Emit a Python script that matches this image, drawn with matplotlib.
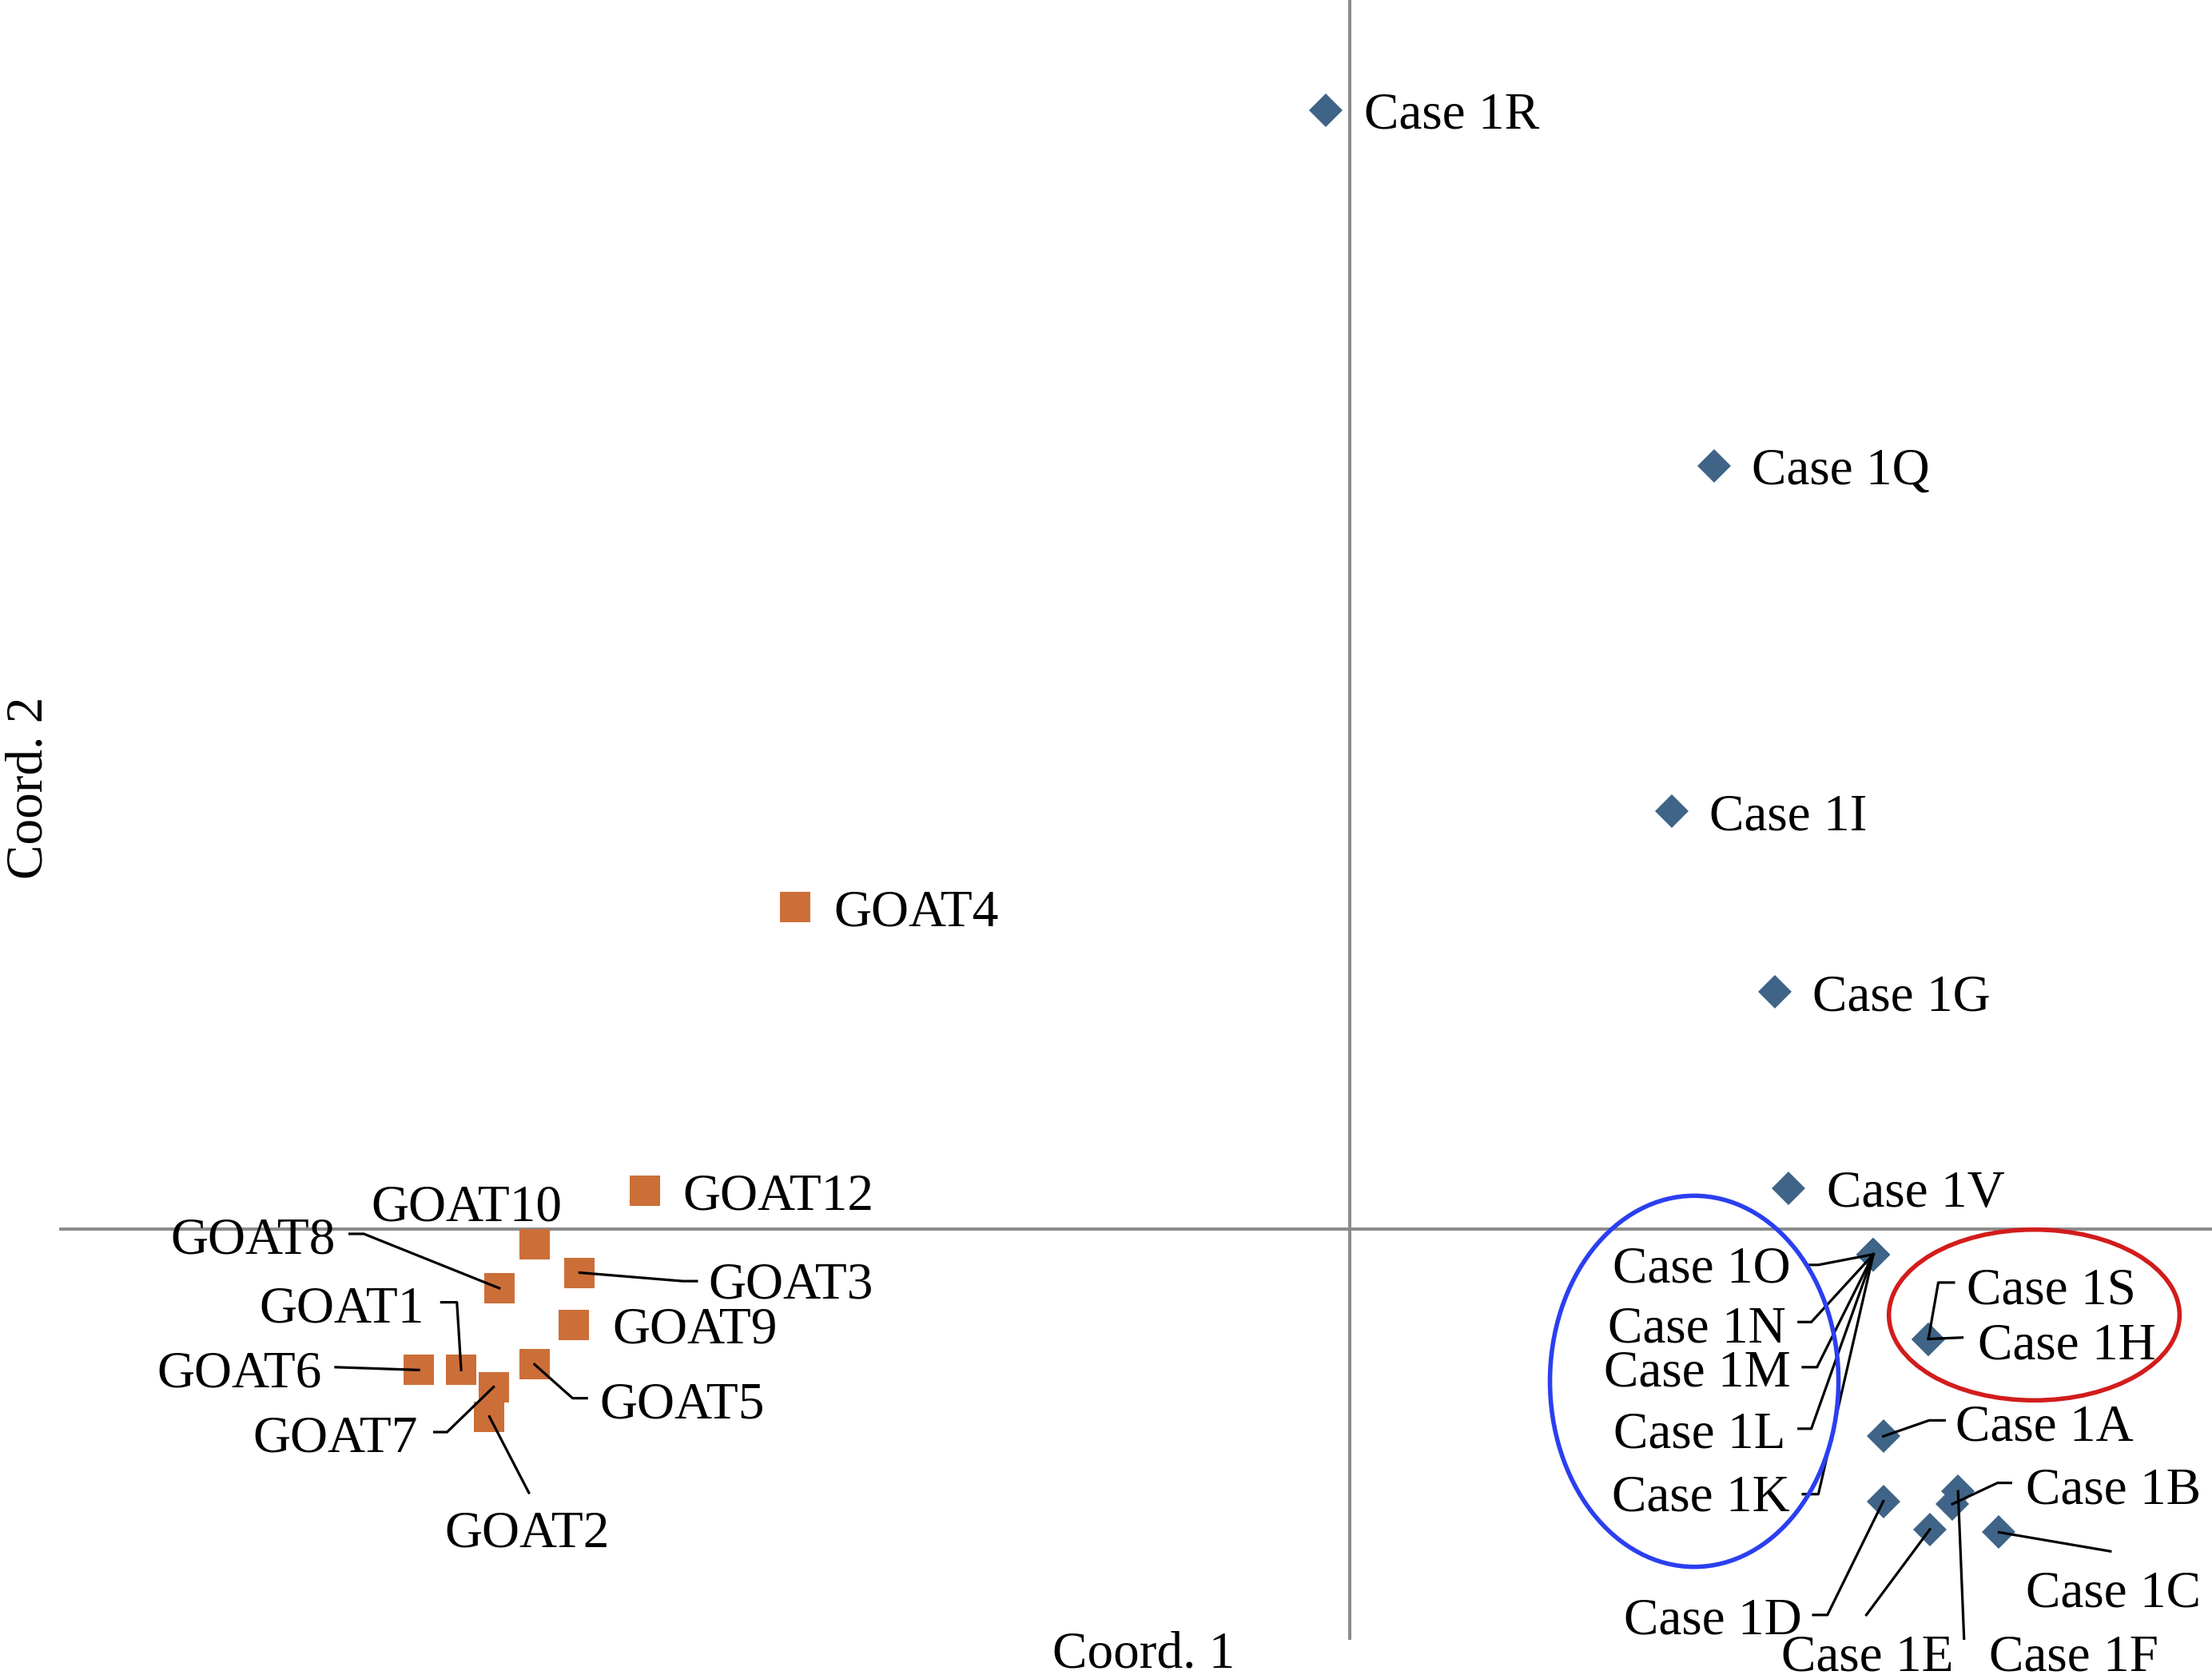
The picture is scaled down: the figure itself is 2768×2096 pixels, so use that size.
import matplotlib.pyplot as plt
from matplotlib.patches import Ellipse

plt.rcParams['font.family'] = ['Liberation Serif', 'DejaVu Serif']

# MDS coordinates (arbitrary units)
case_names = ['Case 1R', 'Case 1Q', 'Case 1I', 'Case 1G', 'Case 1V',
              'Case 1O', 'Case 1N', 'Case 1M', 'Case 1L', 'Case 1K',
              'Case 1S', 'Case 1H', 'Case 1A', 'Case 1B', 'Case 1F',
              'Case 1D', 'Case 1E', 'Case 1C']
case_x = [-0.17, 2.58, 2.28, 3.01, 3.11,
          3.71, 3.71, 3.71, 3.71, 3.71,
          4.10, 4.10, 3.78, 4.27, 4.31,
          3.78, 4.11, 4.60]
case_y = [7.93, 5.41, 2.96, 1.68, 0.29,
          -0.18, -0.18, -0.18, -0.18, -0.18,
          -0.78, -0.78, -1.47, -1.95, -1.86,
          -1.93, -2.13, -2.15]

goat_names = ['GOAT1', 'GOAT2', 'GOAT3', 'GOAT4', 'GOAT5', 'GOAT6',
              'GOAT7', 'GOAT8', 'GOAT9', 'GOAT10', 'GOAT12']
goat_x = [-6.30, -6.10, -5.46, -3.93, -5.78, -6.60, -6.07, -6.03, -5.50, -5.78, -5.00]
goat_y = [-1.00, -1.33, -0.31, 2.28, -0.96, -1.00, -1.12, -0.42, -0.68, -0.11, 0.27]

# label layout: text offset from point, alignment, leader bends (label side first)
RIGHT = (0.27, -0.15, 'left', None)
case_labels = {
    'Case 1O': (-0.59, -0.22, 'right', [(-0.45, -0.075), (-0.39, -0.075)]),
    'Case 1N': (-0.62, -0.64, 'right', [(-0.53, -0.48), (-0.44, -0.48)]),
    'Case 1M': (-0.59, -0.956, 'right', [(-0.50, -0.80), (-0.40, -0.80)]),
    'Case 1L': (-0.62, -1.39, 'right', [(-0.53, -1.236), (-0.44, -1.236)]),
    'Case 1K': (-0.59, -1.84, 'right', [(-0.50, -1.70), (-0.39, -1.70)]),
    'Case 1S': (0.27, 0.23, 'left', [(0.18, 0.40), (0.07, 0.40)]),
    'Case 1H': (0.35, -0.16, 'left', [(0.24, 0.01)]),
    'Case 1A': (0.51, -0.05, 'left', [(0.435, 0.113), (0.325, 0.113)]),
    'Case 1B': (0.52, -0.015, 'left', [(0.415, 0.15), (0.32, 0.15)]),
    'Case 1F': (0.22, -1.29, 'left', [(0.125, -1.13), (0.046, -1.13)]),
    'Case 1E': (0.165, -1.02, 'right', [(-0.45, -0.606)]),
    'Case 1D': (-0.58, -0.96, 'right', [(-0.496, -0.806), (-0.396, -0.806)]),
    'Case 1C': (0.19, -0.545, 'left', [(0.79, -0.135)]),
}
goat_labels = {
    'GOAT10': (-0.48, 0.15, 'center', None),
    'GOAT8': (-1.16, 0.225, 'right', [(-1.06, 0.385), (-0.96, 0.385)]),
    'GOAT3': (0.91, -0.20, 'left', [(0.83, -0.06), (0.73, -0.06)]),
    'GOAT1': (-0.26, 0.32, 'right', [(-0.14, 0.48), (-0.03, 0.48)]),
    'GOAT6': (-0.69, -0.14, 'right', [(-0.59, 0.02)]),
    'GOAT5': (0.46, -0.40, 'left', [(0.37, -0.24), (0.27, -0.24)]),
    'GOAT7': (-0.54, -0.48, 'right', [(-0.42, -0.32), (-0.33, -0.32)]),
    'GOAT2': (0.27, -0.94, 'center', [(0.28, -0.54)]),
}
TEXT_SHIFT = 0.02  # Liberation Serif sits a touch lower than the original font

fig = plt.figure(figsize=(27.68, 20.96), dpi=100)
ax = fig.add_axes([0.0267, 0.0212, 0.9733, 0.9788])
ax.set_xlim(-9.15, 6.11)
ax.set_ylim(-2.91, 8.71)
ax.axis('off')

ax.axhline(0, color='#8c8c8c', lw=2.9, zorder=1)
ax.axvline(0, color='#8c8c8c', lw=2.9, zorder=1)

ax.plot(case_x, case_y, 'D', ms=21, color='#3f6487', mew=0, ls='none', zorder=2)
ax.plot(goat_x, goat_y, 's', ms=28, color='#cc6e38', mew=0, ls='none', zorder=2)

for names, xs, ys, layout in [(case_names, case_x, case_y, case_labels),
                              (goat_names, goat_x, goat_y, goat_labels)]:
    for n, x, y in zip(names, xs, ys):
        dx, dy, ha, bends = layout.get(n, RIGHT)
        ax.text(x + dx, y + dy + TEXT_SHIFT, n, ha=ha, va='baseline', fontsize=47, zorder=4)
        if bends:
            lx = [x + bx for bx, by in bends] + [x]
            ly = [y + by for bx, by in bends] + [y]
            ax.plot(lx, ly, color='black', lw=2.3, zorder=3)

# group highlights
ax.add_patch(Ellipse((2.44, -1.08), 2.045, 2.63, fill=False, ec='#2b3ff0', lw=4, zorder=3))
ax.add_patch(Ellipse((4.85, -0.61), 2.06, 1.21, fill=False, ec='#d21c1c', lw=4, zorder=3))

fig.text(0.5172, 0.0045, 'Coord. 1', ha='center', va='baseline', fontsize=47)
fig.text(0.0134, 0.5296, 'Coord. 2', ha='center', va='center', rotation=90, fontsize=47)

fig.savefig('out.png', dpi=100)
